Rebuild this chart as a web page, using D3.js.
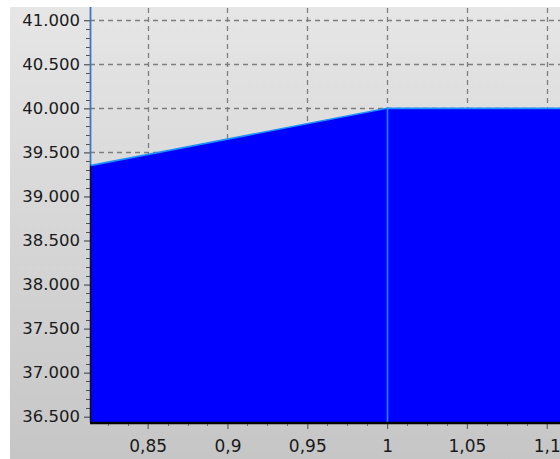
<!DOCTYPE html>
<html>
<head>
<meta charset="utf-8">
<script src="https://cdn.jsdelivr.net/npm/d3@7"></script>
<style>
  html, body { margin: 0; padding: 0; background: #ffffff; }
  svg { display: block; }
</style>
</head>
<body>
<svg id="chart" width="560" height="459"></svg>
<script>
// ---- data ----
const xValues = [0.8139, 1.0, 1.1083];
const yValues = [39.35, 40.0, 40.0];
const markerX = [1.0];
const xDomain = [0.8139, 1.1083];
const yDomain = [36.44, 41.15];
const xTickValues = [0.85, 0.9, 0.95, 1.0, 1.05, 1.1];
const xTickLabels = ["0,85", "0,9", "0,95", "1", "1,05", "1,1"];
const yTickValues = [36.5, 37.0, 37.5, 38.0, 38.5, 39.0, 39.5, 40.0, 40.5, 41.0];
const yTickLabels = ["36.500", "37.000", "37.500", "38.000", "38.500", "39.000", "39.500", "40.000", "40.500", "41.000"];

// ---- layout ----
const W = 560, H = 459;
const plot = { left: 90, top: 7, right: 560, bottom: 422 };

const svg = d3.select("#chart");
const defs = svg.append("defs");
const grad = defs.append("linearGradient").attr("id", "bg").attr("x1", 0).attr("y1", 0).attr("x2", 0).attr("y2", 1);
grad.append("stop").attr("offset", "0%").attr("stop-color", "#e6e6e6");
grad.append("stop").attr("offset", "100%").attr("stop-color", "#c6c6c6");

svg.append("rect").attr("x", 10).attr("y", 7).attr("width", W - 10).attr("height", H - 7).attr("fill", "url(#bg)");

const x = d3.scaleLinear().domain(xDomain).range([plot.left, plot.right]);
const y = d3.scaleLinear().domain(yDomain).range([plot.bottom, plot.top]);

const clip = defs.append("clipPath").attr("id", "plotclip");
clip.append("rect").attr("x", plot.left).attr("y", plot.top).attr("width", plot.right - plot.left).attr("height", plot.bottom - plot.top);

// grid
const grid = svg.append("g").attr("stroke", "#7e7e7e").attr("stroke-width", 1.3).attr("stroke-dasharray", "5,4");
grid.selectAll("line.h").data(yTickValues).join("line")
  .attr("x1", plot.left).attr("x2", plot.right)
  .attr("y1", d => Math.round(y(d)) + 0.5).attr("y2", d => Math.round(y(d)) + 0.5);
grid.selectAll("line.v").data(xTickValues).join("line")
  .attr("y1", plot.top + 1).attr("y2", plot.bottom)
  .attr("x1", d => Math.round(x(d)) + 0.5).attr("x2", d => Math.round(x(d)) + 0.5);

// area
const pts = xValues.map((v, i) => [v, yValues[i]]);
const area = d3.area().x(d => x(d[0])).y0(plot.bottom).y1(d => y(d[1]));
const line = d3.line().x(d => x(d[0])).y(d => y(d[1]));
const g = svg.append("g").attr("clip-path", "url(#plotclip)");
g.append("path").datum(pts).attr("d", area).attr("fill", "#0000ff");
g.append("path").datum(pts).attr("d", line).attr("fill", "none").attr("stroke", "#1e90ff").attr("stroke-width", 1.6);
g.selectAll("line.marker").data(markerX).join("line")
  .attr("x1", d => Math.round(x(d)) + 0.5).attr("x2", d => Math.round(x(d)) + 0.5)
  .attr("y1", d => y(yValues[xValues.indexOf(d)])).attr("y2", plot.bottom)
  .attr("stroke", "#1e90ff").attr("stroke-width", 1.6);

// y axis
const yAxis = d3.axisLeft(y).tickValues(yTickValues).tickFormat((d, i) => yTickLabels[i]).tickSize(6).tickPadding(4);
const ya = svg.append("g").attr("transform", `translate(${plot.left},0)`).call(yAxis);
ya.select(".domain").remove();
ya.selectAll(".tick line").attr("stroke", "#505050").attr("stroke-width", 1.2);
ya.selectAll(".tick text").attr("font-family", "DejaVu Sans").attr("font-size", 16.5).attr("fill", "#1a1a1a");
// minor y ticks
const yMinor = d3.range(36.5, 41.01, 0.1).filter(v => !yTickValues.some(t => Math.abs(t - v) < 1e-6));
svg.append("g").selectAll("line").data(yMinor).join("line")
  .attr("x1", plot.left - 4).attr("x2", plot.left)
  .attr("y1", d => Math.round(y(d)) + 0.5).attr("y2", d => Math.round(y(d)) + 0.5)
  .attr("stroke", "#505050").attr("stroke-width", 1);
// y axis line: blue above area, dark alongside area
svg.append("line").attr("x1", plot.left + 0.5).attr("x2", plot.left + 0.5)
  .attr("y1", plot.top).attr("y2", y(yValues[0]))
  .attr("stroke", "#3a78c0").attr("stroke-width", 1.8);
svg.append("line").attr("x1", plot.left + 0.5).attr("x2", plot.left + 0.5)
  .attr("y1", y(yValues[0])).attr("y2", plot.bottom)
  .attr("stroke", "#101010").attr("stroke-width", 1.5);

// x axis
const xAxis = d3.axisBottom(x).tickValues(xTickValues).tickFormat((d, i) => xTickLabels[i]).tickSize(6).tickPadding(11);
const xa = svg.append("g").attr("transform", `translate(0,${plot.bottom + 1})`).call(xAxis);
xa.select(".domain").remove();
xa.selectAll(".tick line").attr("stroke", "#606060").attr("stroke-width", 1.2);
xa.selectAll(".tick text").attr("font-family", "DejaVu Sans").attr("font-size", 17).attr("fill", "#1a1a1a");
const xMinor = d3.range(0.825, 1.11, 0.0125).filter(v => !xTickValues.some(t => Math.abs(t - v) < 1e-6) && v > xDomain[0] && v < xDomain[1]);
svg.append("g").selectAll("line").data(xMinor).join("line")
  .attr("x1", d => Math.round(x(d)) + 0.5).attr("x2", d => Math.round(x(d)) + 0.5)
  .attr("y1", plot.bottom + 1).attr("y2", plot.bottom + 4)
  .attr("stroke", "#707070").attr("stroke-width", 1);
svg.append("line").attr("x1", plot.left).attr("x2", plot.right)
  .attr("y1", plot.bottom + 1).attr("y2", plot.bottom + 1)
  .attr("stroke", "#000000").attr("stroke-width", 2.6);
</script>
</body>
</html>
